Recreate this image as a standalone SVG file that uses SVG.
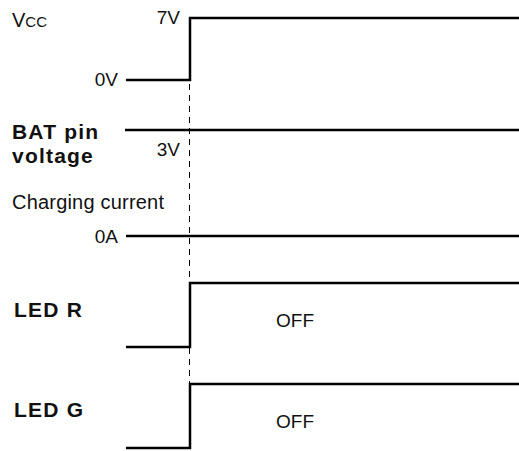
<svg xmlns="http://www.w3.org/2000/svg" width="519" height="451" viewBox="0 0 519 451">
<style>
.w{fill:none;stroke:#000;stroke-width:2.5;stroke-linejoin:miter}
.d{fill:none;stroke:#000;stroke-width:1;stroke-dasharray:6 5}
text{font-family:"Liberation Sans",Arial,sans-serif;fill:#111}
.b{font-weight:bold;font-size:21px;letter-spacing:1.2px}
.s{font-size:19px}
</style>
<rect width="519" height="451" fill="#fff"/>
<g id="connectors">
<line class="d" x1="189.5" y1="84" x2="189.5" y2="384"/>
</g>
<g id="vcc">
<text x="12" y="27"><tspan font-size="20">V</tspan><tspan font-size="15">CC</tspan></text>
<text class="s" x="180" y="24" text-anchor="end">7V</text>
<text class="s" x="118" y="86" text-anchor="end">0V</text>
<polyline class="w" points="126,80 190,80 190,18 519,18"/>
</g>
<g id="bat">
<text class="b" x="12" y="139">BAT pin</text>
<text class="b" x="12" y="163">voltage</text>
<text class="s" x="180" y="156" text-anchor="end">3V</text>
<line class="w" x1="125" y1="130" x2="519" y2="130"/>
</g>
<g id="charging">
<text x="12" y="209" font-size="20" letter-spacing="0.2">Charging current</text>
<text class="s" x="118" y="243" text-anchor="end">0A</text>
<line class="w" x1="126" y1="236" x2="519" y2="236"/>
</g>
<g id="ledr">
<text class="b" x="14" y="317">LED R</text>
<text class="s" x="276" y="327">OFF</text>
<polyline class="w" points="126,347 190,347 190,283 519,283"/>
</g>
<g id="ledg">
<text class="b" x="14" y="417">LED G</text>
<text class="s" x="276" y="428">OFF</text>
<polyline class="w" points="126,448 190,448 190,384 519,384"/>
</g>
</svg>
